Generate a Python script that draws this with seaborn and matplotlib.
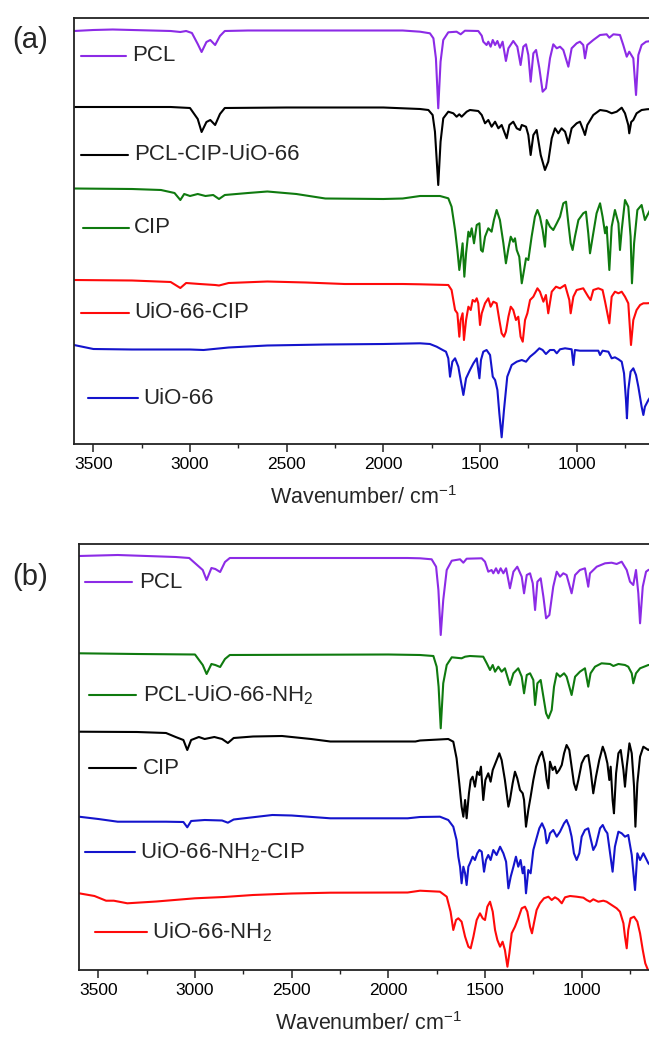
import matplotlib
matplotlib.use("Agg")
import matplotlib.pyplot as plt
from matplotlib.ticker import MultipleLocator
from matplotlib.lines import Line2D
import pandas as pd
import seaborn as sns

# ---------------------------------------------------------------------------
# FTIR spectra, stacked with vertical offsets (arbitrary units).
# Each series: (wavenumber / cm-1, signal) pairs.
# ---------------------------------------------------------------------------

# Panel (a)
pcl_a = [(3600, 413), (3500, 414), (3400, 414.5), (3300, 414), (3200, 413.5), (3100, 413),
         (3050, 412), (3020, 413), (2990, 411), (2960, 400), (2940, 392), (2915, 402),
         (2895, 404), (2870, 399), (2845, 408), (2820, 413), (2700, 413.5), (2500, 413.5),
         (2300, 413.5), (2100, 413.5), (1900, 413.5), (1810, 412.3), (1759, 410.7),
         (1741, 405.7), (1728, 385.7), (1716, 335.7), (1704, 382.3), (1690, 404),
         (1664, 411.7), (1621, 412.3), (1600, 409.7), (1578, 413.3), (1509, 413),
         (1491, 408.3), (1483, 402.3), (1466, 399), (1457, 402.3), (1445, 397.3),
         (1434, 404), (1422, 399), (1410, 403), (1397, 396.3), (1383, 402.3), (1366, 383),
         (1353, 395.7), (1328, 403), (1307, 397.3), (1290, 379), (1276, 397.3),
         (1262, 399.7), (1250, 389), (1238, 362.3), (1224, 390.7), (1210, 394),
         (1193, 375.7), (1176, 352.3), (1159, 355.7), (1138, 385.7), (1121, 399.7),
         (1103, 395.7), (1086, 397.3), (1069, 394), (1043, 377.3), (1026, 395.7),
         (1000, 400.7), (983, 402.3), (966, 399), (957, 385.7), (945, 399), (914, 404),
         (879, 409), (845, 409.7), (831, 406.3), (810, 409.7), (776, 409), (759, 399),
         (741, 387.3), (728, 392.3), (707, 385.7), (693, 349), (681, 389), (664, 399),
         (641, 402.3), (615, 403)]

pcl_cip_uio66_a = [(3600, 337), (3400, 337), (3100, 337), (3000, 336), (2960, 325), (2940, 312),
                   (2915, 322), (2895, 324), (2870, 319), (2845, 330), (2820, 336),
                   (2500, 336.5), (2000, 336.5), (1810, 335), (1767, 334), (1745, 329),
                   (1733, 312.3), (1716, 259), (1704, 302.3), (1690, 325.7), (1664, 332.3),
                   (1638, 330.7), (1621, 327.3), (1607, 329.7), (1595, 327.3), (1569, 332.3),
                   (1552, 334), (1509, 333), (1491, 329), (1474, 320.7), (1457, 324),
                   (1440, 317.3), (1422, 322.3), (1405, 315.7), (1388, 319), (1362, 305.7),
                   (1348, 319), (1328, 322.3), (1310, 315.7), (1293, 314), (1284, 319),
                   (1262, 317.3), (1250, 309), (1238, 289), (1224, 309), (1207, 314),
                   (1186, 289), (1164, 274), (1147, 282.3), (1129, 305.7), (1112, 315.7),
                   (1095, 310.7), (1078, 315.7), (1060, 312.3), (1043, 300.7), (1026, 315.7),
                   (1000, 320.7), (983, 322.3), (966, 314), (957, 309), (945, 319), (914, 329),
                   (879, 334), (845, 333), (819, 330.7), (793, 332.3), (767, 336.3),
                   (750, 330.7), (733, 319), (728, 310.7), (718, 322), (707, 324), (690, 330.7),
                   (664, 334), (638, 334.7), (615, 335)]

cip_a = [(3600, 255.5), (3300, 255), (3150, 254), (3080, 251), (3050, 244), (3030, 250),
         (3000, 248), (2960, 250), (2920, 248), (2880, 249), (2850, 245), (2820, 249),
         (2700, 251), (2600, 252.5), (2450, 250), (2300, 245.5), (2000, 245), (1900, 245.5),
         (1810, 248), (1707, 248), (1664, 245.7), (1647, 237.3), (1629, 214), (1617, 194),
         (1607, 174), (1600, 184), (1590, 200.7), (1581, 167.3), (1572, 190.7), (1560, 212.3),
         (1552, 207.3), (1543, 215.7), (1531, 200.7), (1517, 219), (1503, 220.7), (1495, 194),
         (1486, 192.3), (1474, 207.3), (1457, 215.7), (1440, 212.3), (1428, 224), (1414, 234),
         (1397, 224), (1379, 200.7), (1366, 180.7), (1353, 195.7), (1341, 207.3), (1328, 202.3),
         (1319, 205.7), (1310, 194), (1297, 187.3), (1284, 160.7), (1272, 174), (1262, 185.7),
         (1250, 184), (1233, 207.3), (1216, 227.3), (1203, 234), (1190, 227.3), (1176, 214),
         (1164, 197.3), (1155, 224), (1138, 217.3), (1121, 214), (1103, 220.7), (1086, 227.3),
         (1069, 240.7), (1055, 242.3), (1043, 220.7), (1031, 200.7), (1021, 194), (1009, 207.3),
         (991, 224), (966, 230.7), (952, 232.3), (940, 210.7), (931, 190.7), (917, 207.3),
         (897, 230.7), (879, 240.7), (866, 227.3), (853, 210.7), (845, 217.3), (831, 174),
         (819, 217.3), (802, 234), (784, 220.7), (776, 194), (767, 214), (750, 244),
         (733, 237.3), (721, 207.3), (714, 160.7), (703, 200.7), (686, 234), (664, 239),
         (647, 224), (615, 236)]

uio66_cip_a = [(3600, 164), (3300, 163.5), (3100, 162), (3050, 156), (3020, 161), (2950, 160),
               (2870, 159), (2850, 158.5), (2800, 161), (2600, 162.5), (2400, 161.5), (2200, 160),
               (1900, 160), (1810, 159.7), (1664, 159), (1647, 154), (1629, 134), (1617, 130.7),
               (1607, 107.3), (1600, 124), (1590, 130.7), (1583, 104), (1572, 124), (1560, 137.3),
               (1548, 134), (1538, 144), (1526, 142.3), (1517, 145.7), (1509, 140.7), (1500, 119),
               (1491, 130.7), (1474, 140.7), (1457, 145.7), (1445, 137.3), (1431, 142.3),
               (1414, 140.7), (1400, 124), (1388, 110.7), (1376, 107.3), (1366, 112.3),
               (1353, 127.3), (1341, 137.3), (1328, 134), (1314, 124), (1302, 127.3),
               (1290, 107.3), (1279, 102.3), (1267, 124), (1255, 130.7), (1241, 144),
               (1224, 147.3), (1203, 155.7), (1190, 152.3), (1172, 142.3), (1159, 149),
               (1147, 130.7), (1129, 152.3), (1107, 157.3), (1086, 155.7), (1060, 159),
               (1038, 144), (1031, 130.7), (1017, 147.3), (1000, 154), (966, 155.7), (940, 147.3),
               (928, 144), (914, 154), (888, 155.7), (866, 154), (853, 142.3), (831, 120.7),
               (819, 147.3), (802, 152.3), (784, 150.7), (767, 152.3), (750, 147.3), (733, 140.7),
               (724, 114), (719, 99), (707, 124), (690, 134), (672, 139), (655, 140.7),
               (638, 140.7), (615, 141)]

uio66_a = [(3600, 99), (3550, 97), (3500, 95), (3300, 94.5), (3000, 94.5), (2930, 94),
           (2800, 96.5), (2600, 98.5), (2300, 99.5), (2000, 100), (1810, 100.7), (1759, 100),
           (1724, 97.3), (1693, 94), (1676, 92.3), (1664, 85.7), (1655, 67.3), (1643, 82.3),
           (1629, 85.7), (1612, 77.3), (1600, 64), (1586, 49), (1572, 65.7), (1552, 74),
           (1534, 80.7), (1517, 85.7), (1503, 65.7), (1495, 84), (1483, 92.3), (1466, 94),
           (1448, 89), (1434, 67.3), (1422, 64), (1410, 54), (1400, 30.7), (1388, 6.7),
           (1376, 34), (1359, 67.3), (1336, 79), (1310, 82.3), (1284, 84), (1262, 82.3),
           (1241, 87.3), (1216, 91.3), (1193, 95.7), (1176, 94), (1159, 90), (1138, 94),
           (1117, 94), (1103, 90.7), (1086, 94.7), (1060, 95.7), (1026, 94.7), (1017, 79),
           (1009, 94), (983, 93.3), (931, 93.3), (888, 93.3), (879, 89), (866, 93.3),
           (836, 92.3), (819, 85.7), (802, 86.7), (784, 84.7), (767, 82.3), (755, 70.7),
           (745, 44), (740, 25.7), (733, 54), (721, 72.3), (707, 75.7), (693, 69), (681, 57.3),
           (664, 37.3), (655, 29), (647, 37.3), (629, 44), (615, 48)]

# Panel (b)
pcl_b = [(3600, 414), (3400, 415), (3100, 413), (3030, 412), (2960, 400), (2940, 390),
         (2915, 402), (2895, 401), (2870, 398), (2845, 408), (2820, 412), (2500, 412),
         (1900, 412), (1836, 411.7), (1776, 410.7), (1753, 403.3), (1741, 380), (1729, 335),
         (1716, 370), (1698, 400), (1672, 409.3), (1629, 410.7), (1612, 407.3), (1595, 411.3),
         (1517, 411.7), (1500, 408.3), (1483, 398.3), (1466, 400), (1457, 396.7),
         (1443, 401.7), (1431, 396.7), (1419, 401.7), (1405, 396.7), (1391, 401.7),
         (1371, 381.7), (1353, 398.3), (1333, 403.3), (1310, 393.3), (1298, 376.7),
         (1284, 395), (1267, 396.7), (1253, 386.7), (1241, 360), (1229, 388.3),
         (1212, 391.7), (1198, 373.3), (1184, 351.7), (1167, 355), (1147, 383.3),
         (1129, 398.3), (1112, 393.3), (1095, 396.7), (1078, 395), (1052, 376.7),
         (1034, 395), (1009, 400), (983, 401.7), (966, 383.3), (957, 396.7), (922, 403.3),
         (879, 406.7), (845, 407.3), (819, 406), (793, 408.3), (767, 400), (750, 388.3),
         (733, 385), (719, 400), (707, 376.7), (698, 346.7), (684, 383.3), (667, 398.3),
         (655, 400), (640, 401)]

pcl_uio66nh2_b = [(3600, 316.7), (3300, 316), (3000, 315.5), (2960, 305), (2940, 296),
                  (2915, 306), (2895, 305), (2870, 303), (2845, 311), (2820, 315),
                  (2000, 315.5), (1836, 315), (1767, 314), (1750, 303.3), (1740, 283.3),
                  (1729, 241.7), (1716, 286.7), (1698, 305), (1672, 312.7), (1621, 311.7),
                  (1603, 313.3), (1578, 314), (1509, 313.3), (1491, 306.7), (1474, 300),
                  (1460, 305), (1448, 298.3), (1431, 303.3), (1414, 298.3), (1397, 301.7),
                  (1371, 285), (1353, 296.7), (1328, 301.7), (1310, 293.3), (1298, 276.7),
                  (1284, 295), (1267, 296.7), (1250, 290), (1241, 265), (1229, 286.7),
                  (1212, 290), (1198, 273.3), (1184, 256.7), (1172, 251.7), (1155, 260),
                  (1143, 283.3), (1129, 296.7), (1112, 293.3), (1091, 296.7), (1078, 293.3),
                  (1052, 275), (1034, 293.3), (1009, 298.3), (983, 301.7), (966, 283.3),
                  (954, 296.7), (931, 303.3), (897, 306.7), (853, 306), (836, 304), (810, 306),
                  (776, 305), (759, 303.3), (741, 296.7), (733, 286.7), (719, 296.7),
                  (698, 301.7), (655, 305), (640, 305)]

cip_b = [(3600, 238.3), (3300, 238), (3150, 237), (3100, 233), (3060, 230), (3040, 220),
         (3020, 230), (2980, 233), (2950, 231), (2900, 233), (2860, 231), (2830, 227),
         (2800, 232), (2700, 233.5), (2550, 234), (2400, 231), (2300, 228.5), (1860, 228.5),
         (1836, 229.5), (1690, 231), (1664, 228.3), (1647, 211.7), (1633, 186.7), (1621, 163.3),
         (1612, 153.3), (1603, 170), (1595, 151.7), (1583, 176.7), (1574, 190), (1564, 193.3),
         (1552, 183.3), (1540, 198.3), (1529, 195), (1521, 203.3), (1509, 170), (1498, 190),
         (1483, 196.7), (1471, 188.3), (1460, 200), (1443, 208.3), (1426, 216.7), (1414, 210),
         (1397, 190), (1379, 163.3), (1371, 170), (1357, 186.7), (1345, 198.3), (1333, 191.7),
         (1319, 180), (1305, 176.7), (1298, 170), (1288, 143.3), (1276, 160), (1264, 173.3),
         (1250, 190), (1236, 203.3), (1219, 213.3), (1205, 218.3), (1191, 206.7), (1181, 190),
         (1172, 181.7), (1164, 208.3), (1150, 200), (1138, 203.3), (1129, 196.7), (1116, 200),
         (1103, 205), (1091, 216.7), (1078, 225), (1064, 220), (1052, 203.3), (1040, 186.7),
         (1029, 180), (1017, 190), (1000, 206.7), (983, 213.3), (966, 215), (954, 200),
         (940, 176.7), (926, 193.3), (909, 210), (891, 223.3), (879, 216.7), (867, 206.7),
         (857, 190), (850, 203.3), (840, 170), (833, 156.7), (822, 196.7), (810, 216.7),
         (798, 220), (784, 200), (776, 183.3), (767, 203.3), (753, 226.7), (741, 216.7),
         (729, 183.3), (722, 143.3), (712, 186.7), (698, 213.3), (681, 223.3), (655, 220),
         (640, 222)]

uio66nh2_cip_b = [(3600, 153.3), (3500, 151), (3400, 148.3), (3150, 148.3), (3060, 148),
                  (3040, 142.7), (3020, 149), (2950, 150), (2860, 149.5), (2830, 147.3),
                  (2800, 150.5), (2600, 155), (2500, 154.5), (2300, 151.7), (1900, 151.7),
                  (1836, 153), (1733, 153.3), (1690, 150), (1664, 143.3), (1647, 130),
                  (1638, 113.3), (1629, 103.3), (1621, 86.7), (1612, 103.3), (1603, 96.7),
                  (1595, 85), (1586, 103.3), (1578, 106.7), (1564, 113.3), (1552, 110),
                  (1540, 116.7), (1529, 120), (1517, 118.3), (1505, 98.3), (1495, 110),
                  (1483, 115), (1471, 110), (1457, 120), (1440, 115), (1422, 123.3),
                  (1405, 116.7), (1391, 108.3), (1379, 81.7), (1367, 93.3), (1353, 103.3),
                  (1340, 113.3), (1328, 103.3), (1316, 110), (1305, 96.7), (1297, 103.3),
                  (1288, 76.7), (1276, 100), (1264, 96.7), (1250, 120), (1236, 130),
                  (1219, 141.7), (1205, 146.7), (1190, 140), (1181, 126.7), (1172, 130),
                  (1164, 136.7), (1147, 140), (1129, 133.3), (1112, 138.3), (1091, 146.7),
                  (1078, 150), (1064, 143.3), (1052, 133.3), (1040, 116.7), (1026, 110),
                  (1012, 116.7), (1000, 133.3), (983, 140), (966, 141.7), (948, 126.7),
                  (940, 120), (926, 125), (905, 141.7), (891, 145), (879, 140), (867, 136.7),
                  (853, 116.7), (840, 98.3), (828, 123.3), (810, 138.3), (793, 136.7),
                  (776, 133.3), (759, 135), (741, 115), (724, 80), (712, 116.7), (698, 110),
                  (681, 116.7), (655, 106.7), (640, 104)]

uio66nh2_b = [(3600, 76.7), (3520, 74), (3460, 69.3), (3420, 69.3), (3350, 66.7), (3200, 68.5),
              (3000, 71.7), (2850, 73), (2700, 75), (2500, 76.5), (2300, 77.3), (1900, 77.5),
              (1836, 79.3), (1733, 78.3), (1698, 73.3), (1678, 58.3), (1664, 40), (1650, 50),
              (1638, 51.7), (1621, 48.3), (1603, 33.3), (1586, 23.3), (1574, 21.7), (1560, 33.3),
              (1543, 50), (1526, 56.7), (1512, 51.7), (1500, 50), (1488, 63.3), (1474, 68.3),
              (1460, 58.3), (1448, 40), (1436, 30), (1422, 23.3), (1409, 28.3), (1397, 20),
              (1384, 3.3), (1374, 16.7), (1362, 36.7), (1345, 43.3), (1328, 51.7), (1310, 61.7),
              (1293, 63.3), (1281, 58.3), (1267, 43.3), (1257, 36.7), (1247, 46.7), (1233, 60),
              (1216, 66.7), (1195, 71.7), (1172, 73.3), (1155, 70), (1138, 72.7), (1121, 70.7),
              (1103, 66.7), (1086, 72.7), (1060, 74), (1026, 73.3), (991, 72.3), (974, 70),
              (957, 68.3), (940, 70.7), (914, 68.3), (888, 69.3), (871, 68.3), (845, 65),
              (819, 61.7), (802, 58.3), (784, 46.7), (776, 33.3), (767, 21.7), (759, 40),
              (747, 51.7), (729, 53.3), (712, 48.3), (698, 36.7), (684, 20), (671, 6.7),
              (657, 0), (640, -5)]

PURPLE = "#8c2be6"
BLACK = "#000000"
GREEN = "#0f7a0f"
RED = "#ff0a0a"
BLUE = "#1414cc"

# (label, data, colour, legend y, legend line x0/x1 and text x in axes fraction)
panel_a = [
    ("PCL", pcl_a, PURPLE, 388, 0.012, 0.090, 0.101),
    ("PCL-CIP-UiO-66", pcl_cip_uio66_a, BLACK, 289, 0.012, 0.093, 0.104),
    ("CIP", cip_a, GREEN, 216, 0.015, 0.094, 0.104),
    ("UiO-66-CIP", uio66_cip_a, RED, 131, 0.012, 0.094, 0.104),
    ("UiO-66", uio66_a, BLUE, 46, 0.024, 0.110, 0.119),
]
panel_b = [
    ("PCL", pcl_b, PURPLE, 388, 0.010, 0.092, 0.103),
    ("PCL-UiO-66-NH$_\\mathregular{2}$", pcl_uio66nh2_b, GREEN, 275, 0.017, 0.099, 0.110),
    ("CIP", cip_b, BLACK, 202, 0.017, 0.099, 0.110),
    ("UiO-66-NH$_\\mathregular{2}$-CIP", uio66nh2_cip_b, BLUE, 118, 0.010, 0.096, 0.106),
    ("UiO-66-NH$_\\mathregular{2}$", uio66nh2_b, RED, 38, 0.028, 0.117, 0.126),
]

sns.set_style("white")
plt.rcParams["font.family"] = ["Liberation Sans", "DejaVu Sans"]
plt.rcParams["mathtext.fontset"] = "custom"
plt.rcParams["mathtext.rm"] = "Liberation Sans"
plt.rcParams["mathtext.it"] = "Liberation Sans:italic"
plt.rcParams["mathtext.bf"] = "Liberation Sans:bold"

W, H = 649, 1043
fig = plt.figure(figsize=(W / 100, H / 100), dpi=100)
fig.patch.set_facecolor("white")

LW = 1.5
AX_W = 580 / W


def draw_panel(ax, entries, top):
    for label, pts, color, ly, x0, x1, xt in entries:
        df = pd.DataFrame(pts, columns=["wavenumber", "signal"])
        sns.lineplot(data=df, x="wavenumber", y="signal", ax=ax, color=color,
                     linewidth=LW, estimator=None, sort=False)
        tr = ax.get_yaxis_transform()
        ax.add_line(Line2D([x0, x1], [ly, ly], transform=tr, color=color, lw=LW))
        ax.text(xt, ly, label, transform=tr, fontsize=16, va="center", ha="left")
    ax.set_xlim(3600, 600)
    ax.set_ylim(0, top)
    ax.xaxis.set_major_locator(MultipleLocator(500))
    ax.xaxis.set_minor_locator(MultipleLocator(250))
    ax.tick_params(axis="x", which="major", direction="out", length=5.5, width=1.1,
                   labelsize=12.5, pad=4, bottom=True, top=False, colors="#222222",
                   labelcolor="black")
    ax.tick_params(axis="x", which="minor", direction="out", length=3, width=1.0,
                   bottom=True, top=False, colors="#222222")
    ax.tick_params(axis="y", left=False, labelleft=False)
    ax.set_ylabel("")
    ax.set_xlabel("Wavenumber/ cm$^\\mathregular{-1}$", fontsize=15.5, labelpad=10)
    for side in ("left", "top", "bottom"):
        ax.spines[side].set_visible(True)
        ax.spines[side].set_color("#222222")
        ax.spines[side].set_linewidth(1.3)
    ax.spines["right"].set_visible(False)
    ax.set_facecolor("white")


ax_a = fig.add_axes([74 / W, 1 - 444 / H, AX_W, 426.3 / H])
draw_panel(ax_a, panel_a, 426.3)
ax_b = fig.add_axes([79 / W, 1 - 970 / H, AX_W, 426 / H])
draw_panel(ax_b, panel_b, 426)

fig.text(30 / W, 1 - 40 / H, "(a)", fontsize=21, ha="center", va="center")
fig.text(30 / W, 1 - 577 / H, "(b)", fontsize=21, ha="center", va="center")

fig.savefig("out.png", dpi=100, facecolor="white")
